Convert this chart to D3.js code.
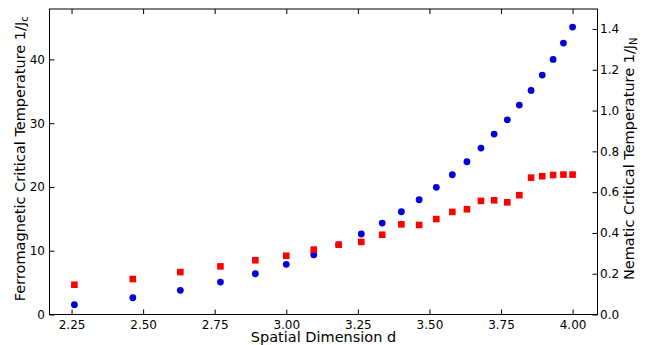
<!DOCTYPE html>
<html>
<head>
<meta charset="utf-8">
<script src="https://cdn.jsdelivr.net/npm/d3@7"></script>
<style>
  body { margin: 0; background: #fff; }
  svg, svg text { font-family: "DejaVu Sans", sans-serif; }
</style>
</head>
<body>
<svg id="chart" width="647" height="345"></svg>
<script>
// spatial dimension d (shared by both series)
const dims = [2.26, 2.464, 2.63, 2.77, 2.892, 3.0, 3.096, 3.183, 3.262, 3.335, 3.402, 3.464,
  3.524, 3.58, 3.631, 3.68, 3.726, 3.772, 3.814, 3.855, 3.894, 3.932, 3.968, 4.0];
// ferromagnetic 1/Jc, left axis
const ferro = [1.54, 2.63, 3.79, 5.09, 6.39, 7.87, 9.37, 10.95, 12.62, 14.34, 16.11, 17.99,
  19.94, 21.91, 23.95, 26.1, 28.29, 30.53, 32.84, 35.14, 37.54, 40.0, 42.55, 45.06];
// nematic 1/JN, right axis
const nematic = [0.146, 0.174, 0.208, 0.236, 0.266, 0.288, 0.318, 0.342, 0.356, 0.391, 0.442, 0.439,
  0.468, 0.503, 0.516, 0.557, 0.560, 0.550, 0.585, 0.671, 0.678, 0.684, 0.686, 0.686];

const xTicks = [2.25, 2.5, 2.75, 3.0, 3.25, 3.5, 3.75, 4.0];
const leftTicks = [0, 10, 20, 30, 40];
const rightTicks = [0, 0.2, 0.4, 0.6, 0.8, 1.0, 1.2, 1.4];

const margin = {left: 49.5, top: 9, right: 49.5, bottom: 30.5};
const width = 647 - margin.left - margin.right;
const height = 345 - margin.top - margin.bottom;

const svg = d3.select('#chart');
const g = svg.append('g').attr('transform', `translate(${margin.left},${margin.top})`);

const x = d3.scaleLinear().domain([2.173, 4.087]).range([0, width]);
const yL = d3.scaleLinear().domain([0, 47.9]).range([height, 0]);
const yR = d3.scaleLinear().domain([0, 1.498]).range([height, 0]);

const tickLen = 5;

// axes, ticks point inward (matplotlib classic look)
function styleAxis(sel) {
  sel.attr('font-family', '"DejaVu Sans", sans-serif').attr('font-size', 12);
  sel.select('.domain').remove();
  sel.selectAll('.tick line').attr('stroke', '#000');
  sel.selectAll('.tick text').attr('fill', '#000');
}

g.append('g')
  .attr('transform', `translate(0,${height})`)
  .call(d3.axisBottom(x).tickValues(xTicks).tickFormat(d3.format('.2f'))
    .tickSizeInner(-tickLen).tickSizeOuter(0).tickPadding(6))
  .call(styleAxis);

g.append('g')
  .call(d3.axisTop(x).tickValues(xTicks).tickFormat('')
    .tickSizeInner(-tickLen).tickSizeOuter(0))
  .call(styleAxis);

g.append('g')
  .call(d3.axisLeft(yL).tickValues(leftTicks).tickFormat(d3.format('d'))
    .tickSizeInner(-tickLen).tickSizeOuter(0).tickPadding(4.5))
  .call(styleAxis);

g.append('g')
  .attr('transform', `translate(${width},0)`)
  .call(d3.axisRight(yR).tickValues(rightTicks).tickFormat(d3.format('.1f'))
    .tickSizeInner(-tickLen).tickSizeOuter(0).tickPadding(2.5))
  .call(styleAxis);

// frame
g.append('rect')
  .attr('width', width)
  .attr('height', height)
  .attr('fill', 'none')
  .attr('stroke', '#000')
  .attr('stroke-width', 1);

// blue circles: ferromagnetic
g.append('g')
  .selectAll('circle')
  .data(dims.map((d, i) => ({d, v: ferro[i]})))
  .enter().append('circle')
  .attr('cx', p => x(p.d))
  .attr('cy', p => yL(p.v))
  .attr('r', 3.4)
  .attr('fill', '#0000dd');

// red squares: nematic
const sq = 6.6;
g.append('g')
  .selectAll('rect')
  .data(dims.map((d, i) => ({d, v: nematic[i]})))
  .enter().append('rect')
  .attr('x', p => x(p.d) - sq / 2)
  .attr('y', p => yR(p.v) - sq / 2)
  .attr('width', sq)
  .attr('height', sq)
  .attr('fill', '#ff0000');

// axis labels
svg.append('text')
  .attr('x', margin.left + width / 2)
  .attr('y', 342)
  .attr('text-anchor', 'middle')
  .attr('font-size', 14.5)
  .text('Spatial Dimension d');

const leftLabel = svg.append('text')
  .attr('transform', `translate(25,${margin.top + height / 2 - 3}) rotate(-90)`)
  .attr('text-anchor', 'middle')
  .attr('font-size', 14.5)
  .text('Ferromagnetic Critical Temperature 1/J');
leftLabel.append('tspan').attr('font-size', 10).attr('dy', 3).text('c');

const rightLabel = svg.append('text')
  .attr('transform', `translate(634,${margin.top + height / 2 - 3}) rotate(-90)`)
  .attr('text-anchor', 'middle')
  .attr('font-size', 14.5)
  .text('Nematic Critical Temperature 1/J');
rightLabel.append('tspan').attr('font-size', 10).attr('dy', 3).text('N');
</script>
</body>
</html>
